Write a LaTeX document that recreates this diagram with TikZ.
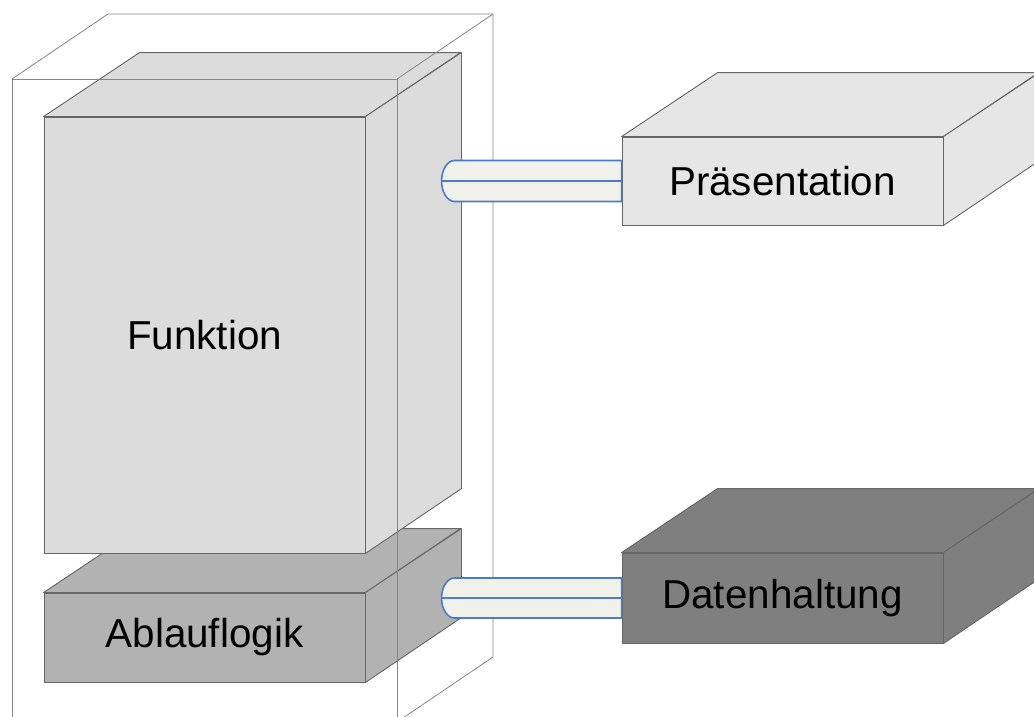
\documentclass[tikz,border=0pt]{standalone}
\usepackage{fontspec}
\setmainfont{Liberation Sans}
\begin{document}
\begin{tikzpicture}[x=1pt,y=-1pt,
  face/.style={draw=black!60,line width=0.9pt,line join=round},
  frontface/.style={face,rectangle,inner sep=0pt,minimum width=321pt,
    font=\fontsize{40.4}{48}\selectfont},
  frame/.style={draw=black!48,line width=0.8pt},
  pipe/.style={draw=pipeblue,line width=1.6pt,fill=pipefill,line join=round},
  pipemid/.style={draw=pipeblue,line width=1.6pt}]
\definecolor{pipeblue}{HTML}{4D7BC9}
\definecolor{pipefill}{HTML}{F0F1EB}
\definecolor{cfkt}{HTML}{DCDCDC}
\definecolor{cabl}{HTML}{B2B2B2}
\definecolor{cprs}{HTML}{E6E6E6}
\definecolor{cdat}{HTML}{7F7F7F}
\useasboundingbox (0,0) rectangle (1034,716);
\clip (0,0) rectangle (1034,716);

% Ablauflogik block (lower part of the component)
\node[frontface,fill=cabl,minimum height=89pt] (abl) at (204.5,637.5) {Ablauflogik};
\path[face,fill=cabl] (abl.north west) -- ++(96,-64) -- ++(321,0) -- (abl.north east) -- cycle;
\path[face,fill=cabl] (abl.north east) -- ++(96,-64) -- ++(0,89) -- (abl.south east) -- cycle;

% Funktion block sitting on top
\node[frontface,fill=cfkt,minimum height=436pt] (fkt) at (204.5,335) {Funktion};
\path[face,fill=cfkt] (fkt.north west) -- ++(96,-64) -- ++(321,0) -- (fkt.north east) -- cycle;
\path[face,fill=cfkt] (fkt.north east) -- ++(96,-64) -- ++(0,436) -- (fkt.south east) -- cycle;

% transparent enclosing box
\coordinate (ftl) at (12,79);
\coordinate (ftr) at (397,79);
\coordinate (fbl) at (12,722);
\coordinate (fbr) at (397,722);
\coordinate (btl) at (108,14);
\coordinate (btr) at (493,14);
\coordinate (bbr) at (493,657);
\draw[frame] (fbl) -- (ftl) -- (ftr) -- (fbr);
\draw[frame] (ftl) -- (btl) -- (btr) -- (bbr) -- (fbr);
\draw[frame] (ftr) -- (btr);

% Praesentation block
\node[frontface,fill=cprs,minimum height=88pt] (prs) at (782.5,181) {Präsentation};
\path[face,fill=cprs] (prs.north west) -- ++(96,-64) -- ++(321,0) -- (prs.north east) -- cycle;
\path[face,fill=cprs] (prs.north east) -- ++(96,-64) -- ++(0,88) -- (prs.south east) -- cycle;

% Datenhaltung block
\node[frontface,fill=cdat,minimum height=90pt] (dat) at (782.5,598) {Datenhaltung};
\path[face,fill=cdat] (dat.north west) -- ++(96,-64) -- ++(321,0) -- (dat.north east) -- cycle;
\path[face,fill=cdat] (dat.north east) -- ++(96,-64) -- ++(0,90) -- (dat.south east) -- cycle;

% pipes between the component and the outer layers
\path[pipe] ([yshift=20.5pt]prs.west) -- ++(-167,0)
  arc[start angle=90,end angle=270,x radius=13pt,y radius=20.5pt]
  -- ([yshift=-20.5pt]prs.west) -- cycle;
\draw[pipemid] (prs.west) -- ++(-180,0);

\path[pipe] ([yshift=20pt]dat.west) -- ++(-167,0)
  arc[start angle=90,end angle=270,x radius=13pt,y radius=20pt]
  -- ([yshift=-20pt]dat.west) -- cycle;
\draw[pipemid] (dat.west) -- ++(-180,0);
\end{tikzpicture}
\end{document}
